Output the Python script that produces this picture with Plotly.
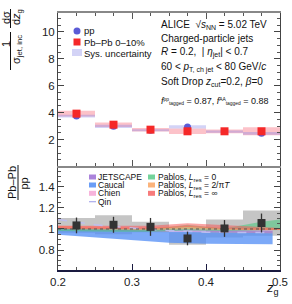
import plotly.graph_objects as go

# ---------------- data ----------------
bin_lo = [0.20, 0.25, 0.30, 0.35, 0.40, 0.45]
bin_hi = [0.25, 0.30, 0.35, 0.40, 0.45, 0.50]

pp_val = [3.75, 2.99, 2.70, 2.94, 2.60, 2.47]
pp_sys = [0.10, 0.12, 0.08, 0.12, 0.08, 0.10]
pbpb_val = [3.93, 3.11, 2.74, 2.62, 2.62, 2.62]
pbpb_sys = [0.22, 0.17, 0.13, 0.21, 0.14, 0.30]

ratio_val = [1.034, 1.04, 1.02, 0.91, 1.005, 1.057]
ratio_stat = [0.075, 0.076, 0.085, 0.065, 0.08, 0.09]
ratio_sys = [0.07, 0.09, 0.05, 0.06, 0.085, 0.12]

z_model = [0.20, 0.25, 0.30, 0.35, 0.40, 0.45, 0.49]
caucal_lo = [0.945, 0.92, 0.895, 0.87, 0.86, 0.855, 0.855]
caucal_hi = [1.015, 1.00, 0.99, 0.975, 0.97, 0.965, 0.96]
jetscape_lo = [0.99, 0.985, 0.98, 0.975, 0.97, 0.965, 0.96]
jetscape_hi = [1.02, 1.015, 1.01, 1.0, 0.995, 0.99, 0.985]
chien_lo = [1.0, 0.995, 0.99, 0.99, 0.985, 0.985, 0.98]
chien_hi = [1.03, 1.025, 1.02, 1.015, 1.01, 1.01, 1.005]
qin_val = [1.09, 1.04, 1.01, 0.985, 0.97, 0.965, 0.965]

z_pablos = [0.20, 0.225, 0.275, 0.325, 0.375, 0.425, 0.475, 0.50]
p0_lo = [0.98, 0.98, 0.975, 0.975, 0.985, 0.98, 0.985, 0.99]
p0_hi = [1.01, 1.01, 1.0, 1.0, 1.04, 1.005, 1.07, 1.09]
p2_lo = [1.0, 1.0, 0.995, 0.99, 1.0, 0.99, 0.99, 0.99]
p2_hi = [1.03, 1.025, 1.02, 1.015, 1.03, 1.01, 1.01, 1.01]
pinf_lo = [1.0, 1.0, 1.0, 1.0, 1.02, 1.0, 0.99, 0.99]
pinf_hi = [1.03, 1.03, 1.03, 1.03, 1.055, 1.04, 1.02, 1.01]

x_ticks = [0.2, 0.3, 0.4, 0.5]
x_ticklabels = ["0.2", "0.3", "0.4", "0.5"]
y_ticks_top = [2, 4, 6, 8, 10]
y_ticks_bot = [0.8, 1.0, 1.2, 1.4]
y_ticklabels_bot = ["0.8", "1", "1.2", "1.4"]

# ---------------- figure ----------------
FONT = "Liberation Sans, Arial, Helvetica, sans-serif"
W, H = 292, 304
ML, MR, MT, MB = 58, 12, 13, 34
PW, PH = W - ML - MR, H - MT - MB

def px(x):  # page pixel -> paper
    return (x - ML) / PW

def py(y):
    return (H - MB - y) / PH

centers = [(a + b) / 2 for a, b in zip(bin_lo, bin_hi)]
widths = [b - a for a, b in zip(bin_lo, bin_hi)]

fig = go.Figure()

# top panel: systematic boxes
fig.add_trace(go.Bar(x=centers, y=[2 * s for s in pbpb_sys],
                     base=[v - s for v, s in zip(pbpb_val, pbpb_sys)],
                     width=widths, marker=dict(color="rgba(248,120,135,0.45)", line_width=0),
                     xaxis="x2", yaxis="y", showlegend=False, hoverinfo="skip"))
fig.add_trace(go.Bar(x=centers, y=[2 * s for s in pp_sys],
                     base=[v - s for v, s in zip(pp_val, pp_sys)],
                     width=widths, marker=dict(color="rgba(130,130,230,0.35)", line_width=0),
                     xaxis="x2", yaxis="y", showlegend=False, hoverinfo="skip"))
fig.add_trace(go.Scatter(x=centers, y=pp_val, mode="markers",
                         marker=dict(symbol="circle", size=7, color="#5b5bd6"),
                         xaxis="x2", yaxis="y", showlegend=False))
fig.add_trace(go.Scatter(x=centers, y=pbpb_val, mode="markers",
                         marker=dict(symbol="square", size=8, color="#f52828"),
                         xaxis="x2", yaxis="y", showlegend=False))

# bottom panel: ratio systematic boxes
fig.add_trace(go.Bar(x=centers, y=[2 * s for s in ratio_sys],
                     base=[v - s for v, s in zip(ratio_val, ratio_sys)],
                     width=widths, marker=dict(color="rgba(150,150,150,0.55)", line_width=0),
                     xaxis="x", yaxis="y2", showlegend=False, hoverinfo="skip"))

def band(xs, lo, hi, color):
    fig.add_trace(go.Scatter(x=list(xs) + list(xs)[::-1], y=list(hi) + list(lo)[::-1],
                             fill="toself", fillcolor=color, mode="lines", line=dict(width=0),
                             xaxis="x", yaxis="y2", showlegend=False, hoverinfo="skip"))

band(z_model, caucal_lo, caucal_hi, "rgba(80,140,245,0.75)")
band(z_model, jetscape_lo, jetscape_hi, "rgba(150,100,210,0.6)")
band(z_model, chien_lo, chien_hi, "rgba(245,160,210,0.55)")
band(z_pablos, p0_lo, p0_hi, "rgba(80,200,130,0.6)")
band(z_pablos, p2_lo, p2_hi, "rgba(250,160,90,0.6)")
band(z_pablos, pinf_lo, pinf_hi, "rgba(245,90,90,0.55)")

fig.add_trace(go.Scatter(x=z_model, y=qin_val, mode="lines",
                         line=dict(color="rgba(190,190,240,0.95)", width=1.5, dash="dash"),
                         xaxis="x", yaxis="y2", showlegend=False))
fig.add_trace(go.Scatter(x=[bin_lo[0], bin_hi[-1]], y=[1, 1], mode="lines",
                         line=dict(color="#555", width=1, dash="dot"),
                         xaxis="x", yaxis="y2", showlegend=False))
fig.add_trace(go.Scatter(x=centers, y=ratio_val, mode="markers",
                         marker=dict(symbol="square", size=8, color="#333333"),
                         error_y=dict(type="data", array=ratio_stat, color="#333333", thickness=1.3, width=0),
                         xaxis="x", yaxis="y2", showlegend=False))

split = 0.405
axis_common = dict(ticks="inside", showgrid=False, zeroline=False, automargin=False,
                   tickfont=dict(family=FONT, size=11.5, color="#222"))

fig.update_layout(
    width=W, height=H, margin=dict(l=ML, r=MR, t=MT, b=MB, autoexpand=False),
    paper_bgcolor="white", plot_bgcolor="white", barmode="overlay",
    showlegend=False,
    xaxis=dict(domain=[0, 1], anchor="y2", range=[0.2, 0.5], tickvals=x_ticks, ticktext=x_ticklabels,
               ticklen=6, tickcolor="#1a1a40", showline=True, linecolor="#1a1a40", linewidth=1.5,
               minor=dict(ticks="inside", dtick=0.025, ticklen=3, tickcolor="#555"), **axis_common),
    xaxis2=dict(domain=[0, 1], anchor="y", matches="x", range=[0.2, 0.5], tickvals=x_ticks,
                showticklabels=False, ticklen=6, tickcolor="#555", showline=True, linecolor="#888",
                linewidth=2, mirror="ticks",
                minor=dict(ticks="inside", dtick=0.025, ticklen=3, tickcolor="#555"), **axis_common),
    yaxis=dict(domain=[split, 1], anchor="x2", range=[0.05, 11.4], tickvals=y_ticks_top,
               ticklen=6, tickcolor="#444", showline=True, linecolor="#444", linewidth=1, mirror="ticks",
               minor=dict(ticks="inside", dtick=0.5, ticklen=3, tickcolor="#555"), **axis_common),
    yaxis2=dict(domain=[0, split], anchor="x", range=[0.61, 1.6], tickvals=y_ticks_bot,
                ticktext=y_ticklabels_bot, ticklen=6, tickcolor="#444", showline=True, linecolor="#444",
                linewidth=1, mirror="ticks",
                minor=dict(ticks="inside", dtick=0.05, ticklen=3, tickcolor="#555"), **axis_common),
)

shapes = []
annos = []

def text(x, y, s, size=10, anchor="left", angle=0):
    annos.append(dict(x=px(x), y=py(y), xref="paper", yref="paper", text=s, showarrow=False,
                      xanchor=anchor, yanchor="middle", textangle=angle, borderpad=0,
                      font=dict(family=FONT, size=size, color="#111")))

# top legend
shapes.append(dict(type="circle", xref="paper", yref="paper", x0=px(73.5), x1=px(80.5),
                   y0=py(34.5), y1=py(27.5), fillcolor="#5b5bd6", line_width=0))
shapes.append(dict(type="rect", xref="paper", yref="paper", x0=px(73.5), x1=px(80.5),
                   y0=py(45.5), y1=py(38.5), fillcolor="#f52828", line_width=0))
shapes.append(dict(type="rect", xref="paper", yref="paper", x0=px(72), x1=px(82),
                   y0=py(56), y1=py(49), fillcolor="rgba(130,130,230,0.35)", line_width=0))
text(83, 31, "pp", 9.5)
text(83, 42, "Pb–Pb 0–10%", 9.5)
text(83, 53, "Sys. uncertainty", 9.5)

# info block
text(160, 25, "ALICE  √<i>s</i><sub>NN</sub> = 5.02 TeV", 10)
text(160, 38, "Charged-particle jets", 10)
text(160, 52, "<i>R</i> = 0.2,  | <i>η</i><sub>jet</sub>| &lt; 0.7", 10)
text(160, 67, "60 &lt; <i>p</i><sub>T, ch jet</sub> &lt; 80 GeV/<i>c</i>", 10)
text(160, 82, "Soft Drop <i>z</i><sub>cut</sub>=0.2, <i>β</i>=0", 10)
text(160, 101, "<i>f</i><span style='font-size:7px'><sup>pp</sup></span><span style='font-size:7px'><sub>tagged</sub></span> = 0.87, "
              "<i>f</i><span style='font-size:7px'><sup>AA</sup></span><span style='font-size:7px'><sub>tagged</sub></span> = 0.88", 9)

# bottom legend
leg_left = [("JETSCAPE", "rgba(150,100,210,0.8)"), ("Caucal", "rgba(80,140,245,0.85)"),
            ("Chien", "rgba(245,160,210,0.8)")]
rows = [177, 185, 193.3, 201.7]
for (lab, col), yy in zip(leg_left, rows):
    shapes.append(dict(type="rect", xref="paper", yref="paper", x0=px(89), x1=px(96),
                       y0=py(yy + 2.5), y1=py(yy - 2.5), fillcolor=col, line_width=0))
    text(97, yy, lab, 8.5)
shapes.append(dict(type="line", xref="paper", yref="paper", x0=px(89), x1=px(96),
                   y0=py(rows[3]), y1=py(rows[3]),
                   line=dict(color="rgba(170,170,235,1)", width=1.2, dash="dash")))
text(97, rows[3], "Qin", 8.5)

leg_right = [("Pablos, <i>L</i><sub>res</sub> = 0", "rgba(80,200,130,0.8)"),
             ("Pablos, <i>L</i><sub>res</sub> = 2/π<i>T</i>", "rgba(250,160,90,0.8)"),
             ("Pablos, <i>L</i><sub>res</sub> = ∞", "rgba(245,90,90,0.8)")]
for (lab, col), yy in zip(leg_right, rows[:3]):
    shapes.append(dict(type="rect", xref="paper", yref="paper", x0=px(148), x1=px(155),
                       y0=py(yy + 2.5), y1=py(yy - 2.5), fillcolor=col, line_width=0))
    text(157, yy, lab, 8.5)

# y title top (rotated fraction)
text(6, 44, "1", 11, "center", -90)
text(17, 50, "σ<sub>jet, inc</sub>", 11, "center", -90)
shapes.append(dict(type="line", xref="paper", yref="paper", x0=px(10.5), x1=px(10.5),
                   y0=py(70), y1=py(32), line=dict(color="#111", width=1)))
text(6, 18, "dσ", 11, "center", -90)
text(17, 17, "d<i>z</i><sub>g</sub>", 11, "center", -90)
shapes.append(dict(type="line", xref="paper", yref="paper", x0=px(10.5), x1=px(10.5),
                   y0=py(28), y1=py(9), line=dict(color="#111", width=1)))

# y title bottom
text(12, 183, "Pb–Pb", 11, "center", -90)
shapes.append(dict(type="line", xref="paper", yref="paper", x0=px(18), x1=px(18),
                   y0=py(200), y1=py(165), line=dict(color="#111", width=1)))
text(23.5, 184, "pp", 11, "center", -90)

# x title
text(272, 288, "<i>z</i><sub>g</sub>", 13, "center")

fig.update_layout(shapes=shapes, annotations=annos)
fig.write_html("out.html", config={"displayModeBar": False},
               post_script="document.body.style.margin='0px';")
